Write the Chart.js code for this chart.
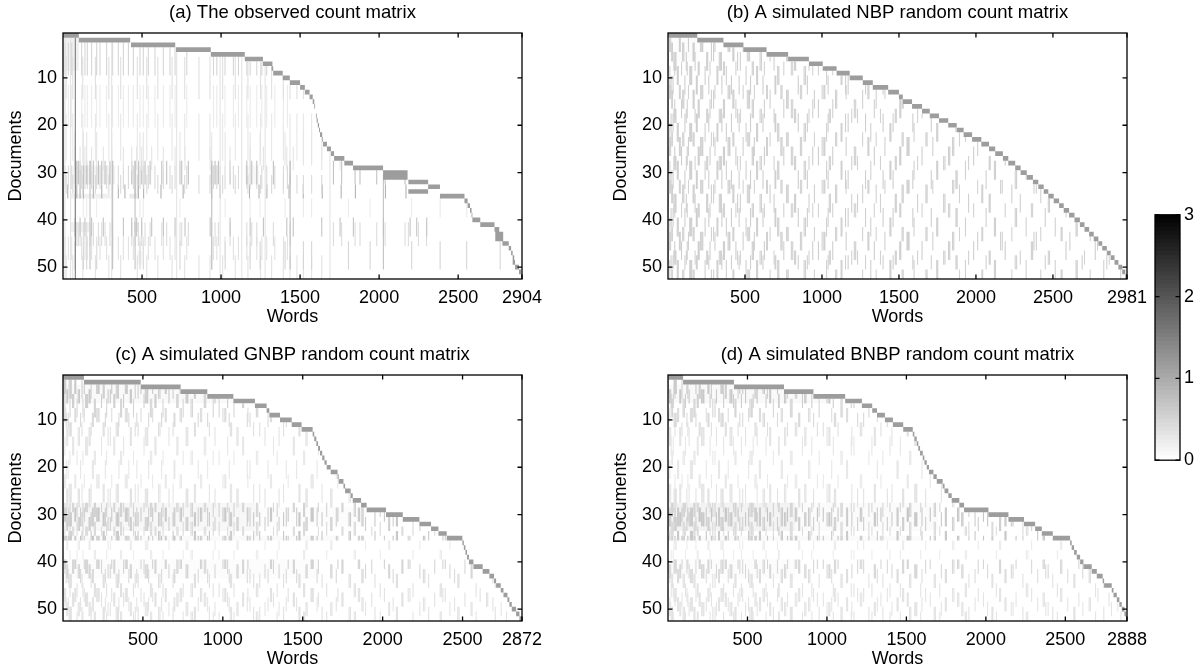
<!DOCTYPE html>
<html>
<head>
<meta charset="utf-8">
<title>Count matrices</title>
<script src="https://cdn.jsdelivr.net/npm/chart.js@4"></script>
<style>
    body { margin: 0; background: #fff; overflow: hidden; }
    canvas { position: absolute; }
    .marks { filter: blur(0.6px); }
</style>
</head>
<body>
<canvas id="panel-a-marks" class="marks" style="left:0;top:0" width="560" height="328"></canvas>
<canvas id="panel-b-marks" class="marks" style="left:605px;top:0" width="560" height="328"></canvas>
<canvas id="panel-c-marks" class="marks" style="left:0;top:342px" width="560" height="328"></canvas>
<canvas id="panel-d-marks" class="marks" style="left:605px;top:342px" width="560" height="328"></canvas>
<canvas id="panel-a" style="left:0;top:0" width="560" height="328"></canvas>
<canvas id="panel-b" style="left:605px;top:0" width="560" height="328"></canvas>
<canvas id="panel-c" style="left:0;top:342px" width="560" height="328"></canvas>
<canvas id="panel-d" style="left:605px;top:342px" width="560" height="328"></canvas>
<canvas id="colorbar" style="left:1140px;top:200px" width="58" height="275"></canvas>
<script>
const docTicks = [10, 20, 30, 40, 50];
const barTicks = [0, 1, 2, 3];
const barLevels = [0.05,0.1,0.15,0.2,0.25,0.3,0.35,0.4,0.45,0.5,0.55,0.6,0.65,0.7,0.75,0.8,0.85,0.9,0.95,1,1.05,1.1,1.15,1.2,1.25,1.3,1.35,1.4,1.45,1.5,1.55,1.6,1.65,1.7,1.75,1.8,1.85,1.9,1.95,2,2.05,2.1,2.15,2.2,2.25,2.3,2.35,2.4,2.45,2.5,2.55,2.6,2.65,2.7,2.75,2.8,2.85,2.9,2.95,3];

// Word index where each document's new words start / stop (documents 1 to 52)
const startsA = [0,100,430,715,935,1150,1265,1320,1330,1390,1435,1500,1530,1560,1580,1590,1595,1600,1605,1612,1620,1626,1640,1645,1670,1695,1715,1780,1835,2025,2025,2185,2310,2185,2385,2540,2560,2575,2585,2590,2640,2730,2735,2735,2780,2820,2835,2845,2845,2860,2885,2898];
const endsA = [100,425,710,935,1150,1265,1325,1330,1390,1435,1500,1530,1560,1580,1590,1595,1600,1605,1612,1620,1626,1640,1645,1670,1695,1715,1780,1835,2025,2180,2180,2310,2385,2310,2540,2560,2575,2585,2590,2640,2730,2760,2785,2785,2820,2835,2845,2855,2860,2885,2898,2904];
const startsB = [0,190,360,490,640,780,915,1005,1095,1180,1265,1330,1430,1500,1525,1585,1650,1700,1760,1820,1875,1920,1975,2035,2085,2125,2175,2210,2255,2290,2330,2370,2405,2440,2470,2505,2540,2570,2605,2640,2675,2705,2735,2765,2795,2820,2850,2875,2900,2925,2950,2970];
const endsB = [190,360,490,640,780,915,1005,1095,1180,1265,1330,1430,1500,1525,1585,1650,1700,1760,1820,1875,1920,1975,2035,2085,2125,2175,2210,2255,2290,2330,2370,2405,2440,2470,2505,2540,2570,2605,2640,2675,2705,2735,2765,2795,2820,2850,2875,2900,2925,2950,2970,2981];
const startsC = [0,131,486,736,903,1066,1201,1274,1291,1358,1431,1493,1562,1572,1585,1596,1608,1622,1636,1650,1675,1718,1725,1755,1765,1800,1813,1865,1900,2021,2126,2230,2303,2349,2401,2499,2508,2518,2528,2540,2568,2626,2668,2697,2710,2739,2756,2781,2793,2808,2835,2856];
const endsC = [131,486,736,903,1066,1201,1274,1291,1358,1431,1493,1562,1572,1585,1596,1608,1622,1636,1650,1675,1718,1725,1755,1765,1800,1813,1865,1900,2021,2126,2230,2303,2349,2401,2499,2508,2518,2528,2540,2568,2626,2668,2697,2710,2739,2756,2781,2793,2808,2835,2856,2872];
const startsD = [0,95,415,730,915,1115,1220,1285,1315,1365,1415,1480,1540,1550,1565,1575,1586,1603,1613,1628,1642,1670,1691,1728,1740,1764,1785,1833,1863,2016,2142,2240,2310,2352,2421,2530,2540,2555,2572,2593,2614,2666,2698,2735,2744,2792,2803,2824,2840,2855,2872,2882];
const endsD = [95,415,730,915,1115,1220,1285,1315,1365,1415,1480,1540,1550,1565,1575,1586,1603,1613,1628,1642,1670,1691,1728,1740,1764,1785,1833,1863,2016,2142,2240,2310,2352,2421,2530,2540,2555,2572,2593,2614,2666,2698,2735,2744,2792,2803,2824,2840,2855,2872,2882,2888];

// Panel (a): words with visible counts, grouped by the documents they run through
const aDark = [78];
const aFull = [12, 48, 308, 719, 994, 1131, 1279, 1689];
const aTop = [13,34,55,118,139,154,181,213,234,276,314,350,382,414,445,487,508,540,582,635,677,709,783,952,973,1025,1078,1110,1163,1184,1226,1258,1289,1340,1395,1420];
const aBand = [87,97,108,129,150,171,192,224,245,266,297,314,435,456,477,498,519,551,625,656,740,751,793,941,962,983,1057,1163,1194,1226,1331,1437,1711,1763,1848,1879,1985,2038,2164,2185,2249,2300];
const aRow35 = [30,87,108,129,192,245,308,350,392,456,477,510,620,760,941,994,1180,1240,1290,1430,1520,1640,1760,1850,2040,2170];
const aMid = [76,108,139,181,255,308,382,435,466,498,561,635,709,772,931,1057,1184,1268,1416,1457,1637,1753,1837,2027,2196,2238,2301];
const aLow = [76,129,150,213,308,487,508,740,941,1026,1184,1247,1405,1521,1573,1806,1943,2206,2386,2554,2766];
const aUpper = [20,62,125,205,290,365,470,530,600,690,770,860,930,1010,1090,1170,1250,1320,1394,1436,1480,1521,1573,1637];
const aStrong = [171, 314, 456, 941, 1437, 2027];

// Texture of the simulated panels, read as loose clumps of words
const t1 = [9,17,74,80,133,211,219,226,305,390,398,402,488,561,640,646,733,741,860,868,1001,1012,1019,1157,1298,1305,1409,1552,1559,1566,1720,1848,1856,2011,2160,2171,2377,2392,2610,2790,2915];
const t2 = [3,38,46,52,119,176,251,258,333,341,347,452,470,598,607,689,822,829,916,1047,1055,1193,1231,1380,1476,1483,1621,1790,1799,1952,2086,2093,2288,2470,2478,2705,2866];
const t3 = [24,29,95,103,163,170,282,296,421,428,515,524,530,663,770,778,781,951,1088,1096,1264,1352,1520,1528,1675,1683,1893,2038,2044,2233,2421,2553,2560,2742,2940];
const t4 = [12,60,67,141,148,154,241,318,324,379,507,575,582,712,720,884,893,1030,1124,1130,1317,1441,1448,1598,1745,1752,1932,2120,2127,2326,2515,2650,2658,2830];
const t5 = [1,44,88,125,196,203,273,360,367,441,547,555,626,752,801,810,940,977,1070,1210,1219,1340,1505,1512,1650,1822,1830,1985,2190,2360,2368,2585,2775,2904];
const t6 = [20,33,110,184,190,265,350,412,462,536,617,695,700,846,905,1040,1153,1170,1283,1397,1462,1590,1710,1870,1878,2066,2255,2264,2450,2690,2850];

const totals = { a: 2904, b: 2981, c: 2872, d: 2888 };
const stairCount = 1.15;
const streakScale = 0.8;

// Each row: words, first document, last document, count
const streaksA = [[aDark,1,52,1.9],[aStrong,28,50,0.9],[aFull,1,52,0.4],[aTop,3,9,0.6],[aUpper,6,14,0.45],[aTop,12,20,0.3],[aUpper,18,27,0.35],[aLow,22,28,0.38],[aMid,25,29,0.38],[aBand,28,32,0.9],[aTop,29,33,0.55],[aUpper,31,34,0.55],[aRow35,33,35,1.1],[aLow,36,39,0.3],[aMid,40,43,0.85],[aBand,41,45,0.5],[aTop,44,48,0.42],[aLow,45,50,0.6],[aUpper,48,52,0.42]];
const streaksB = [[t1,2,4,0.7],[t3,3,6,0.7],[t2,5,8,0.68],[t5,7,9,0.65],[t4,8,11,0.68],[t6,10,13,0.7],[t1,12,14,0.65],[t3,13,16,0.68],[t5,15,18,0.68],[t2,17,19,0.65],[t6,18,21,0.7],[t4,20,23,0.68],[t3,22,24,0.65],[t1,23,26,0.68],[t5,25,28,0.7],[t2,27,29,0.65],[t4,28,31,0.68],[t6,30,33,0.7],[t1,32,34,0.65],[t3,33,36,0.68],[t2,35,38,0.68],[t5,37,39,0.65],[t6,38,41,0.7],[t4,40,43,0.68],[t3,42,44,0.65],[t1,43,46,0.68],[t5,45,48,0.7],[t2,47,49,0.65],[t6,48,50,0.68],[t4,49,52,0.68],[t3,51,52,0.65]];
const streaksC = [[t1,2,4,0.8],[t2,2,5,0.7],[t3,4,6,0.8],[t4,5,7,0.7],[t5,6,9,0.6],[t1,8,10,0.5],[t6,9,11,0.55],[t2,11,13,0.45],[t3,12,15,0.4],[t4,14,17,0.35],[t5,17,19,0.32],[t6,19,22,0.35],[t1,22,24,0.32],[t2,24,27,0.38],[t3,25,28,0.42],[t4,28,29,0.6],[t5,28,30,0.65],[t1,29,31,0.8],[t6,29,32,0.7],[t2,30,32,0.8],[t3,31,33,0.7],[t5,32,34,0.55],[t4,33,34,0.5],[t2,34,35,0.8],[t6,35,35,0.85],[t1,35,35,0.7],[t3,36,37,0.28],[t5,38,39,0.28],[t1,40,41,0.65],[t4,40,42,0.6],[t3,41,43,0.6],[t6,42,44,0.55],[t2,43,45,0.45],[t5,45,47,0.42],[t1,46,48,0.42],[t4,47,49,0.42],[t6,48,50,0.4],[t3,49,51,0.38],[t2,50,52,0.42],[t5,51,52,0.4]];
const streaksD = [[t2,2,4,0.8],[t5,2,5,0.7],[t1,4,6,0.8],[t6,5,7,0.7],[t3,6,9,0.6],[t4,8,10,0.5],[t2,9,11,0.55],[t5,11,13,0.45],[t1,12,15,0.4],[t6,14,17,0.35],[t3,17,19,0.32],[t4,19,22,0.35],[t5,22,24,0.32],[t1,24,27,0.38],[t2,25,28,0.42],[t6,28,29,0.6],[t3,28,30,0.65],[t5,29,31,0.85],[t4,29,32,0.75],[t1,30,32,0.8],[t2,31,33,0.7],[t3,32,34,0.55],[t6,33,34,0.5],[t4,34,35,0.8],[t5,35,35,0.85],[t3,35,35,0.7],[t2,36,37,0.28],[t6,38,39,0.28],[t5,40,41,0.6],[t2,40,42,0.58],[t1,41,43,0.58],[t4,42,44,0.5],[t3,43,45,0.42],[t6,45,47,0.4],[t2,46,48,0.4],[t5,47,49,0.4],[t4,48,50,0.4],[t1,49,51,0.38],[t3,50,52,0.42],[t6,51,52,0.4]];

// Soft shading between the streaks: first document, last document, first word, last word, count
const washA = [[1,8,0,100,0.18],[29,32,60,330,0.14],[29,32,430,560,0.1],[29,32,930,1000,0.18],[29,32,1150,1240,0.08],[35,35,50,300,0.18],[35,35,420,480,0.25],[41,42,50,170,0.18],[41,42,450,480,0.25],[47,49,470,500,0.12]];
const washB = [[1,6,0,190,0.04]];
const washC = [[1,1,0,131,0.2],[3,6,0,1100,0.07],[28,33,0,1200,0.1],[29,32,1200,1900,0.04],[35,35,0,1700,0.06],[40,43,0,1600,0.03]];
const washD = [[1,1,0,95,0.2],[3,6,0,1000,0.07],[28,33,0,800,0.14],[28,33,800,1700,0.05],[35,35,0,1600,0.06],[40,43,0,800,0.04]];

// Reversed gray colormap, 0 is white and 3 is black
function countColor(count) {
    const g = Math.round(255 * (1 - count / 3));
    return `rgb(${g},${g},${g})`;
}

// First document that reaches this word, nothing is drawn above the staircase
function firstDoc(ends, word) {
    let i = 0;
    while (i < ends.length - 1 && ends[i] <= word) i++;
    return i + 1;
}

function buildDatasets(starts, ends, streaks, wash) {
    const stair = [];
    starts.forEach((s, i) => {
        stair.push({ x: s, y: i + 1 }, { x: ends[i], y: i + 1 }, { x: null, y: null });
    });
    const datasets = [{ data: stair, borderColor: countColor(stairCount), borderWidth: 4.7 }];
    streaks.forEach(([words, from, to, count]) => {
        const data = [];
        words.forEach(w => {
            const top = Math.max(from, firstDoc(ends, w) + 1);
            if (top > to) return;
            data.push({ x: w, y: top - 0.5 }, { x: w, y: to + 0.5 }, { x: null, y: null });
        });
        datasets.push({ data: data, borderColor: countColor(count * streakScale), borderWidth: 1.1 });
    });
    wash.forEach(([from, to, w0, w1, count]) => {
        const data = [];
        for (let d = from; d <= to; d++) {
            // Keep the shading left of this document's stair
            const stop = Math.min(w1, starts[d - 1]);
            if (stop > w0) data.push({ x: w0, y: d }, { x: stop, y: d }, { x: null, y: null });
        }
        datasets.push({ data: data, borderColor: countColor(count), borderWidth: 4.7 });
    });
    return datasets;
}

// MATLAB style box: closed frame with ticks pointing inward on all sides
const framePlugin = {
    id: "frame",
    afterDraw(chart) {
        const { ctx, chartArea: a, scales } = chart;
        ctx.save();
        ctx.strokeStyle = "#000";
        ctx.lineWidth = 1.3;
        ctx.strokeRect(a.left, a.top, a.width, a.height);
        ctx.beginPath();
        if (scales.x.type === "linear") {
            scales.x.ticks.forEach(t => {
                const x = scales.x.getPixelForValue(t.value);
                ctx.moveTo(x, a.top);
                ctx.lineTo(x, a.top + 4.5);
                ctx.moveTo(x, a.bottom);
                ctx.lineTo(x, a.bottom - 4.5);
            });
        }
        scales.y.ticks.forEach(t => {
            const y = scales.y.getPixelForValue(t.value);
            ctx.moveTo(a.left, y);
            ctx.lineTo(a.left + 4.5, y);
            ctx.moveTo(a.right, y);
            ctx.lineTo(a.right - 4.5, y);
        });
        ctx.stroke();
        ctx.restore();
    }
};

function xTicksFor(total) {
    return [500, 1000, 1500, 2000, 2500, total];
}

// The marks sit on their own blurred canvas, the axes and text stay sharp on top
function panelConfig(title, total, datasets, textColor, plugins) {
    const font = { family: "Liberation Sans", size: 18 };
    return {
        type: "scatter",
        data: { datasets: datasets },
        plugins: plugins,
        options: {
            responsive: false,
            animation: false,
            events: [],
            layout: { autoPadding: false, padding: { right: 38 } },
            datasets: { scatter: { showLine: true, pointRadius: 0, borderCapStyle: "butt", spanGaps: false } },
            plugins: {
                legend: { display: false },
                tooltip: { enabled: false },
                title: {
                    display: true,
                    fullSize: false,
                    text: title,
                    color: textColor,
                    font: { family: "Liberation Sans", size: 18.5, weight: "normal" },
                    padding: { top: 2, bottom: 8.8 }
                }
            },
            scales: {
                x: {
                    type: "linear",
                    min: 0,
                    max: total,
                    grid: { display: false, drawTicks: false },
                    border: { display: false },
                    afterBuildTicks: s => { s.ticks = xTicksFor(total).map(v => ({ value: v })); },
                    afterFit: s => { s.height = 49; },
                    ticks: { color: textColor, autoSkip: false, maxRotation: 0, padding: 8, font: font, callback: v => String(v) },
                    title: { display: true, text: "Words", color: textColor, padding: 0, font: font }
                },
                y: {
                    type: "linear",
                    min: 0.5,
                    max: 52.5,
                    reverse: true,
                    grid: { display: false, drawTicks: false },
                    border: { display: false },
                    afterBuildTicks: s => { s.ticks = docTicks.map(v => ({ value: v })); },
                    afterFit: s => { s.width = 63; },
                    ticks: { color: textColor, autoSkip: false, padding: 6, font: font, callback: v => String(v) },
                    title: { display: true, text: "Documents", color: textColor, padding: { top: 5, bottom: 0 }, font: font }
                }
            }
        }
    };
}

function drawPanel(id, title, total, starts, ends, streaks, wash) {
    new Chart(document.getElementById(id + "-marks"), panelConfig(title, total, buildDatasets(starts, ends, streaks, wash), "transparent", []));
    new Chart(document.getElementById(id), panelConfig(title, total, [], "#000", [framePlugin]));
}

drawPanel("panel-a", "(a) The observed count matrix", totals.a, startsA, endsA, streaksA, washA);
drawPanel("panel-b", "(b) A simulated NBP random count matrix", totals.b, startsB, endsB, streaksB, washB);
drawPanel("panel-c", "(c) A simulated GNBP random count matrix", totals.c, startsC, endsC, streaksC, washC);
drawPanel("panel-d", "(d) A simulated BNBP random count matrix", totals.d, startsD, endsD, streaksD, washD);

// Colour bar on the right, stacked slices of the gray map
new Chart(document.getElementById("colorbar"), {
    type: "bar",
    data: {
        labels: ["count"],
        datasets: barLevels.map(level => ({
            data: [0.05],
            backgroundColor: countColor(level - 0.025),
            barPercentage: 1,
            categoryPercentage: 1,
            inflateAmount: 0.6
        }))
    },
    plugins: [{ id: "barFrame", afterDraw: framePlugin.afterDraw }],
    options: {
        responsive: false,
        animation: false,
        events: [],
        layout: { autoPadding: false, padding: { top: 14, bottom: 14, left: 15 } },
        plugins: { legend: { display: false }, tooltip: { enabled: false } },
        scales: {
            x: { stacked: true, display: false },
            y: {
                stacked: true,
                position: "right",
                min: 0,
                max: 3,
                grid: { display: false, drawTicks: false },
                border: { display: false },
                afterBuildTicks: s => { s.ticks = barTicks.map(v => ({ value: v })); },
                afterFit: s => { s.width = 18; },
                ticks: { color: "#000", padding: 4, font: { family: "Liberation Sans", size: 18 } }
            }
        }
    }
});
</script>
</body>
</html>
